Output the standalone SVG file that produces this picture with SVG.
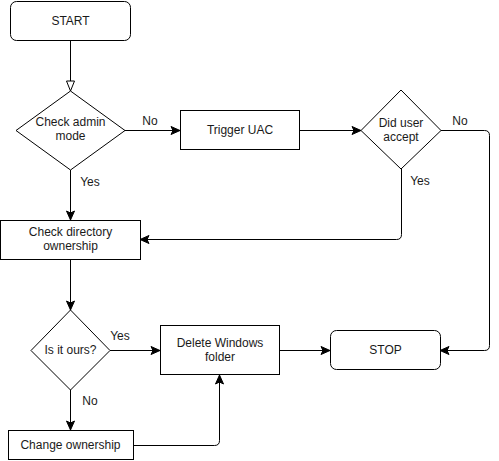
<svg xmlns="http://www.w3.org/2000/svg" width="499" height="461" viewBox="0 0 499 461">
<defs>
<style>
.n{fill:#fff;stroke:#000;stroke-width:1}
.t{font-family:"Liberation Sans",Arial,sans-serif;font-size:12px;fill:#1a1a1a;text-anchor:middle}
.e{fill:none;stroke:#000;stroke-width:1}
</style>
<marker id="a" markerUnits="userSpaceOnUse" markerWidth="12" markerHeight="12" viewBox="0 0 12 12" refX="10" refY="6" orient="auto">
<path d="M1,2 L10,6 L1,10 L3,6 Z" fill="#000" stroke="#000" stroke-width="1"/>
</marker>
<marker id="h" markerUnits="userSpaceOnUse" markerWidth="14" markerHeight="14" viewBox="0 0 14 14" refX="12" refY="7" orient="auto">
<path d="M2,3 L12,7 L2,11 Z" fill="#fff" stroke="#000" stroke-width="1"/>
</marker>
</defs>
<rect width="499" height="461" fill="#fff"/>
<g id="connectors">
<path class="e" d="M70.5,41 V91" marker-end="url(#h)"/>
<path class="e" d="M125,130.5 H180" marker-end="url(#a)"/>
<path class="e" d="M70.5,170 V220" marker-end="url(#a)"/>
<path class="e" d="M300,130.5 H361" marker-end="url(#a)"/>
<path class="e" d="M441,130.5 H484.5 Q489.5,130.5 489.5,135.5 V345.5 Q489.5,350.5 484.5,350.5 H440" marker-end="url(#a)"/>
<path class="e" d="M401.5,169 V234.5 Q401.5,239.5 396.5,239.5 H140" marker-end="url(#a)"/>
<path class="e" d="M70.5,260 V310" marker-end="url(#a)"/>
<path class="e" d="M110,350.5 H160" marker-end="url(#a)"/>
<path class="e" d="M280,350.5 H330" marker-end="url(#a)"/>
<path class="e" d="M70.5,390 V430" marker-end="url(#a)"/>
<path class="e" d="M133,445.5 H214.5 Q219.5,445.5 219.5,440.5 V375" marker-end="url(#a)"/>
<text class="t" x="150" y="125">No</text>
<text class="t" x="90" y="186">Yes</text>
<text class="t" x="460" y="125">No</text>
<text class="t" x="420" y="185">Yes</text>
<text class="t" x="120" y="340">Yes</text>
<text class="t" x="90" y="405">No</text>
</g>
<g id="start">
<rect class="n" x="10.5" y="1.5" width="120" height="39" rx="6"/>
<text class="t" x="70.5" y="25">START</text>
</g>
<g id="check-admin">
<path class="n" d="M70.5,91 L125,130.5 L70.5,170 L16,130.5 Z"/>
<text class="t" x="70.5" y="126">Check admin</text>
<text class="t" x="70.5" y="140">mode</text>
</g>
<g id="trigger-uac">
<rect class="n" x="180.5" y="110.5" width="119" height="39"/>
<text class="t" x="240" y="134">Trigger UAC</text>
</g>
<g id="did-user-accept">
<path class="n" d="M401,90 L441,130.5 L401,169 L361,130.5 Z"/>
<text class="t" x="401" y="127">Did user</text>
<text class="t" x="401" y="141">accept</text>
</g>
<g id="check-directory">
<rect class="n" x="0.5" y="220.5" width="140" height="39"/>
<text class="t" x="70.5" y="236">Check directory</text>
<text class="t" x="70.5" y="250">ownership</text>
</g>
<g id="is-it-ours">
<path class="n" d="M70.5,310 L110,350.5 L70.5,390 L31,350.5 Z"/>
<text class="t" x="70.5" y="354">Is it ours?</text>
</g>
<g id="delete-windows">
<rect class="n" x="160.5" y="325.5" width="119" height="49"/>
<text class="t" x="220" y="347">Delete Windows</text>
<text class="t" x="220" y="361">folder</text>
</g>
<g id="stop">
<rect class="n" x="330.5" y="330.5" width="110" height="39" rx="6"/>
<text class="t" x="385.5" y="354">STOP</text>
</g>
<g id="change-ownership">
<rect class="n" x="8.5" y="430.5" width="125" height="29"/>
<text class="t" x="70.5" y="449">Change ownership</text>
</g>
</svg>
